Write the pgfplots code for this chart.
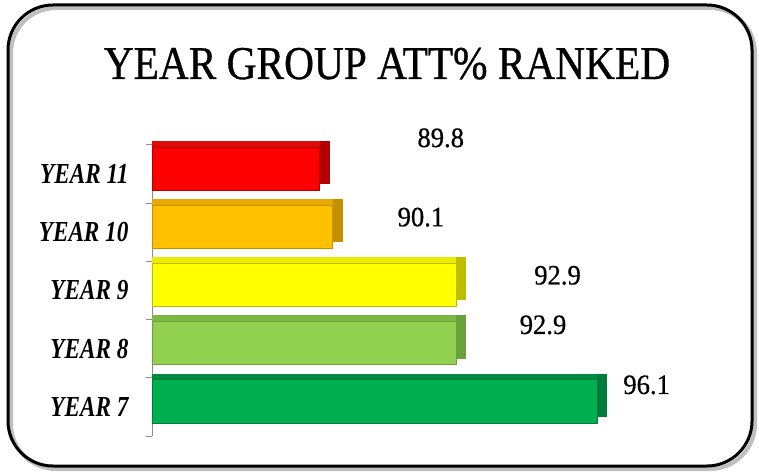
\documentclass[border=0pt]{standalone}
\usepackage{fontspec}
\setmainfont{Liberation Serif}
\newfontfamily\titlefont{Liberation Serif}[FakeStretch=0.88, FakeBold=0.7]
\newfontfamily\labfont{Liberation Serif}[FakeStretch=0.80]
\newfontfamily\numfont{Liberation Serif}[FakeStretch=0.95, FakeBold=0.6]
\usepackage{pgfplots}
\pgfplotsset{compat=1.18}
\definecolor{c11}{RGB}{255,0,0}\definecolor{m11}{RGB}{225,10,10}\definecolor{d11}{RGB}{180,0,0}
\definecolor{c10}{RGB}{255,192,0}\definecolor{m10}{RGB}{230,170,0}\definecolor{d10}{RGB}{195,145,0}
\definecolor{c9}{RGB}{255,255,0}\definecolor{m9}{RGB}{235,235,0}\definecolor{d9}{RGB}{190,190,0}
\definecolor{c8}{RGB}{146,208,80}\definecolor{m8}{RGB}{125,182,66}\definecolor{d8}{RGB}{108,160,56}
\definecolor{c7}{RGB}{0,176,80}\definecolor{m7}{RGB}{0,140,64}\definecolor{d7}{RGB}{0,122,56}
\begin{document}
\begin{tikzpicture}[x=1pt,y=1pt]
\path[use as bounding box] (0,0) rectangle (759,472);
% frame shadow and frame
\draw[line width=4pt, black!25, rounded corners=45pt] (11,3) rectangle (755,464);
\draw[line width=3pt, black, rounded corners=45pt] (8,6) rectangle (752,467);
\node[anchor=base, inner sep=0pt, font=\titlefont\fontsize{47}{50}\selectfont] at (387,393) {YEAR GROUP ATT\% RANKED};
\begin{axis}[
  at={(152pt,36pt)}, anchor=south west,
  scale only axis, width=529pt, height=305.8pt,
  xmin=86, xmax=98, ymin=-0.5, ymax=4.75,
  axis x line=none,
  axis y line*=left,
  y axis line style={draw=black!45, line width=0.8pt, shorten >=14.6pt},
  ytick={0,1,2,3,4},
  yticklabels={YEAR 7,YEAR 8,YEAR 9,YEAR 10,YEAR 11},
  major tick length=0pt,
  minor ytick={-0.5,0.5,1.5,2.5,3.5,4.5},
  minor tick length=6pt, tick align=outside,
  minor tick style={draw=black!45, line width=0.8pt},
  yticklabel style={anchor=east, xshift=-20pt, font=\labfont\bfseries\itshape\fontsize{29}{32}\selectfont},
  xbar, bar width=0.74,
  clip=true,
]
% right (3D) faces
\addplot[xbar, bar shift=0.20, fill=d7, draw=none] coordinates {(96.33,0)};
\addplot[xbar, bar shift=0.20, fill=d8, draw=none] coordinates {(93.13,1)};
\addplot[xbar, bar shift=0.20, fill=d9, draw=none] coordinates {(93.13,2)};
\addplot[xbar, bar shift=0.20, fill=d10, draw=none] coordinates {(90.33,3)};
\addplot[xbar, bar shift=0.20, fill=d11, draw=none] coordinates {(90.03,4)};
% top (3D) faces
\addplot[xbar, bar shift=0.20, fill=m7, draw=none] coordinates {(96.1,0)};
\addplot[xbar, bar shift=0.20, fill=m8, draw=none] coordinates {(92.9,1)};
\addplot[xbar, bar shift=0.20, fill=m9, draw=none] coordinates {(92.9,2)};
\addplot[xbar, bar shift=0.20, fill=m10, draw=none] coordinates {(90.1,3)};
\addplot[xbar, bar shift=0.20, fill=m11, draw=none] coordinates {(89.8,4)};
% front faces
\addplot[xbar, bar shift=0.095, fill=c7, draw=d7, line width=0.6pt] coordinates {(96.1,0)};
\addplot[xbar, bar shift=0.095, fill=c8, draw=d8, line width=0.6pt] coordinates {(92.9,1)};
\addplot[xbar, bar shift=0.095, fill=c9, draw=d9, line width=0.6pt] coordinates {(92.9,2)};
\addplot[xbar, bar shift=0.095, fill=c10, draw=d10, line width=0.6pt] coordinates {(90.1,3)};
\addplot[xbar, bar shift=0.095, fill=c11, draw=d11, line width=0.6pt] coordinates {(89.8,4)};
% value labels
\addplot[draw=none, mark=none, xbar=0pt, bar width=0, nodes near coords, point meta=explicit symbolic,
  nodes near coords align={center},
  every node near coord/.append style={anchor=center, font=\numfont\fontsize{28}{30}\selectfont, text=black}]
  coordinates {(92.55,4.36)[89.8] (92.1,3.0)[90.1] (95.2,2.0)[92.9] (94.87,1.15)[92.9] (97.22,0.12)[96.1]};
\end{axis}
\end{tikzpicture}
\end{document}
